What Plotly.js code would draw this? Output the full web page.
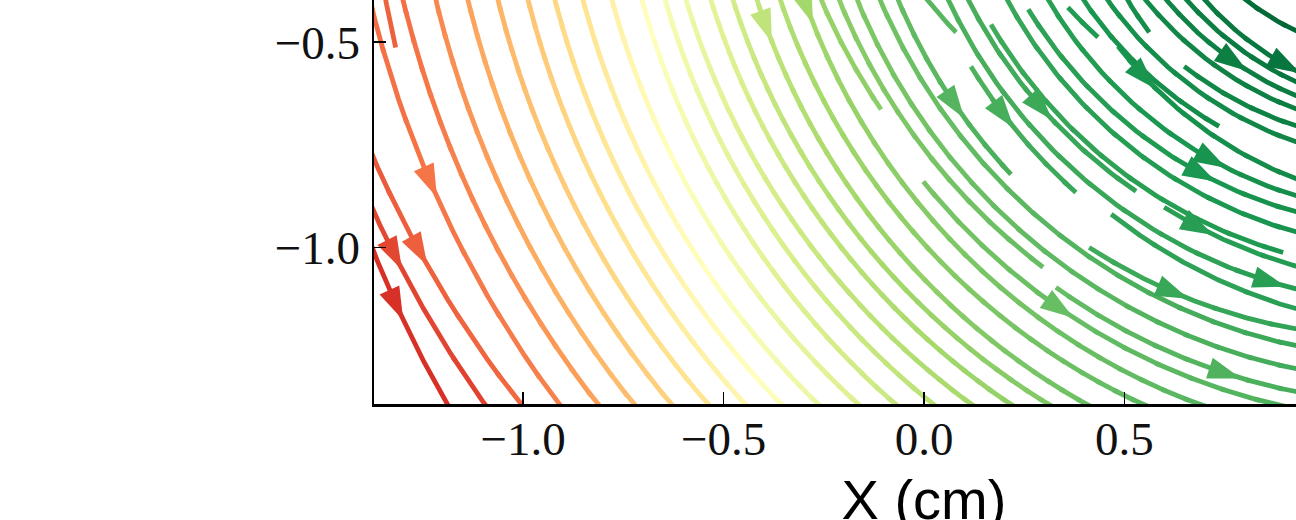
<!DOCTYPE html>
<html>
<head>
<meta charset="utf-8">
<script src="https://cdn.plot.ly/plotly-3.0.1.min.js"></script>
<style>
html,body{margin:0;padding:0;overflow:hidden;background:#fff;width:1296px;height:520px;}
#plot{position:absolute;left:0;top:-100px;width:1500px;height:654px;}
</style>
</head>
<body>
<div id="plot"></div>
<script>
// ---- data (data units) ----
// centre the streamlines curl around (used to bend each line between its two read end points)
const fieldCentre = [1.2, 0.2];

// streamline pieces: start point, end point, colour level (RdYlGn 0..1) at start and end
const segStartX = [-1.372,-1.372,-1.372,-1.372,-1.343,-1.300,-1.218,-1.138,-1.063,-0.988,-0.921,-0.851,-0.779,-0.704,-0.646,-0.594,-0.532,-0.477,-0.417,-0.359,-0.299,-0.257,-0.002,-0.212,0.329,-0.167,-0.110,-0.065,0.412,0.007,0.117,0.467,0.060,0.110,0.599,0.167,0.207,0.260,0.309,0.359,0.484,0.397,0.457,0.507,0.649,0.552,0.604,0.654,0.699,0.801];
const segStartY = [-1.012,-0.914,-0.785,-0.437,-0.396,-0.396,-0.396,-0.396,-0.396,-0.396,-0.396,-0.396,-0.396,-0.396,-0.396,-0.396,-0.396,-0.396,-0.396,-0.396,-0.396,-0.396,-0.839,-0.396,-1.097,-0.396,-0.396,-0.396,-1.000,-0.396,-0.559,-0.919,-0.396,-0.396,-0.902,-0.457,-0.396,-0.420,-0.396,-0.415,-0.510,-0.396,-0.396,-0.396,-0.559,-0.396,-0.396,-0.396,-0.396,-0.396];
const segEndX   = [-1.190,-1.096,-1.006,-0.911,-1.318,-0.814,-0.724,-0.631,-0.539,-0.447,-0.357,-0.265,-0.165,-0.072,0.022,0.117,0.215,0.309,0.404,0.544,0.684,-0.107,0.873,0.297,0.931,0.931,0.931,0.217,0.931,0.080,0.379,0.931,0.931,0.529,0.931,0.896,0.931,0.931,0.931,0.434,0.931,0.736,0.931,0.562,0.931,0.931,0.931,0.931,0.931,0.931];
const segEndY   = [-1.381,-1.381,-1.381,-1.381,-0.513,-1.381,-1.381,-1.381,-1.381,-1.381,-1.381,-1.381,-1.381,-1.381,-1.381,-1.381,-1.381,-1.381,-1.381,-1.381,-1.381,-0.664,-1.381,-1.048,-1.352,-1.296,-1.240,-0.822,-1.199,-0.476,-0.866,-1.150,-1.102,-0.863,-1.046,-1.012,-0.963,-0.914,-0.875,-0.488,-0.834,-0.705,-0.744,-0.476,-0.705,-0.664,-0.632,-0.598,-0.571,-0.474];
const segStartLevel = [0.10,0.14,0.17,0.20,0.18,0.20,0.24,0.28,0.31,0.34,0.38,0.41,0.45,0.49,0.52,0.54,0.57,0.61,0.64,0.67,0.70,0.72,0.77,0.74,0.80,0.76,0.78,0.80,0.85,0.82,0.83,0.87,0.83,0.84,0.88,0.85,0.86,0.87,0.88,0.89,0.90,0.90,0.91,0.92,0.93,0.93,0.94,0.95,0.96,0.99];
const segEndLevel   = [0.10,0.13,0.19,0.23,0.18,0.28,0.33,0.37,0.42,0.47,0.51,0.55,0.59,0.63,0.66,0.70,0.73,0.76,0.79,0.81,0.82,0.74,0.83,0.80,0.84,0.85,0.86,0.84,0.87,0.82,0.86,0.88,0.885,0.87,0.89,0.90,0.91,0.915,0.92,0.895,0.93,0.93,0.94,0.925,0.95,0.955,0.96,0.97,0.975,1.00];

// arrow heads (centres)
const arrowX = [-1.260,-1.318,-1.273,-1.313,-0.414,-0.275,0.085,0.200,0.299,0.554,0.784,0.908,0.734,0.686,0.691,0.866,0.624,0.334,0.759];
const arrowY = [-0.858,-1.021,-1.021,-1.143,-0.474,-0.415,-0.651,-0.681,-0.659,-0.586,-0.537,-0.554,-0.766,-0.839,-0.948,-1.089,-1.114,-1.162,-1.296];

// axes
const xTickVals = [-1.0,-0.5,0.0,0.5,1.0];
const xTickText = ['\u22121.0','\u22120.5','0.0','0.5','1.0'];
const yTickVals = [-1.0,-0.5];
const yTickText = ['\u22121.0','\u22120.5'];
const xTitle = 'X (cm)';

// ---- styling / geometry ----
const X_RANGE = [-1.372, 1.372];
const Y_RANGE = [-1.381, -0.2];
const X_VISIBLE_RIGHT = 0.931, Y_VISIBLE_TOP = -0.396;
const PLOT_W = 1100, PLOT_H = 485;
const PX_X = PLOT_W/(X_RANGE[1]-X_RANGE[0]);
const PX_Y = PLOT_H/(Y_RANGE[1]-Y_RANGE[0]);
const LEVEL_STEPS = 200;
const ARROW_SIZE = 35, ARROW_TIP_AHEAD_PX = 15;

const cmapStops = ['#a50026','#d73027','#f46d43','#fdae61','#fee08b','#ffffbf','#d9ef8b','#a6d96a','#66bd63','#1a9850','#006837'];
const stopsRGB = cmapStops.map(h => [parseInt(h.slice(1,3),16),parseInt(h.slice(3,5),16),parseInt(h.slice(5,7),16)]);
function cmap(t){
  t = Math.max(0, Math.min(1, t));
  const s = t*10, i = Math.min(9, Math.floor(s)), f = s - i;
  const a = stopsRGB[i], b = stopsRGB[i+1];
  return 'rgb(' + [0,1,2].map(k => Math.round(a[k] + (b[k]-a[k])*f)).join(',') + ')';
}

function arcOf(i){
  const ax = segStartX[i], ay = segStartY[i], bx = segEndX[i], by = segEndY[i];
  const mx = (ax+bx)/2, my = (ay+by)/2;
  const dx = bx-ax, dy = by-ay, L = Math.hypot(dx, dy);
  const nx = -dy/L, ny = dx/L;
  const s = (fieldCentre[0]-mx)*nx + (fieldCentre[1]-my)*ny;
  const cx = mx + nx*s, cy = my + ny*s;
  const r = Math.hypot(ax-cx, ay-cy);
  const tA = Math.atan2(ay-cy, ax-cx);
  let tB = Math.atan2(by-cy, bx-cx);
  while (tB < tA) tB += 2*Math.PI;
  const edgeA = ax <= X_RANGE[0] + 0.005 || ay >= Y_VISIBLE_TOP - 0.005;
  const edgeB = by <= Y_RANGE[0] + 0.005 || bx >= X_VISIBLE_RIGHT - 0.005;
  return {cx, cy, r, tA, tB,
          t0: tA - (edgeA ? 0.4/r : 0), t1: tB + (edgeB ? 0.4/r : 0),
          l0: segStartLevel[i], l1: segEndLevel[i]};
}
function levelAt(sg, t){
  const f = Math.max(0, Math.min(1, (t - sg.tA)/(sg.tB - sg.tA)));
  return sg.l0 + (sg.l1 - sg.l0)*f;
}

const segs = segStartX.map((_, i) => arcOf(i));

// split every line into colour runs so the colour can change along it
const bins = {};
segs.forEach(sg => {
  const n = Math.max(6, Math.ceil((sg.t1 - sg.t0)*sg.r/0.006));
  const px = [], py = [], pb = [];
  for (let k = 0; k <= n; k++){
    const t = sg.t0 + (sg.t1 - sg.t0)*k/n;
    px.push(sg.cx + sg.r*Math.cos(t)); py.push(sg.cy + sg.r*Math.sin(t));
  }
  for (let k = 0; k < n; k++){
    const t = sg.t0 + (sg.t1 - sg.t0)*(k+0.5)/n;
    pb.push(Math.round(levelAt(sg, t)*LEVEL_STEPS));
  }
  let k = 0;
  while (k < n){
    let e = k;
    while (e+1 < n && pb[e+1] === pb[k]) e++;
    const from = Math.max(0, k-1), to = Math.min(n, e+2);
    const b = bins[pb[k]] || (bins[pb[k]] = {x: [], y: []});
    for (let j = from; j <= to; j++){ b.x.push(px[j]); b.y.push(py[j]); }
    b.x.push(null); b.y.push(null);
    k = e + 1;
  }
});

const traces = Object.keys(bins).map(Number).sort((a,b)=>a-b).map(key => ({
  type: 'scatter', mode: 'lines', x: bins[key].x, y: bins[key].y,
  line: {color: cmap(key/LEVEL_STEPS), width: 4.8},
  hoverinfo: 'skip', showlegend: false
}));

// arrows snapped onto their nearest line; the tip is put ahead so the head is centred on the read point
const hx = [], hy = [], ac = [], aa = [];
arrowX.forEach((x, i) => {
  const y = arrowY[i];
  let best = null, bestD = 1e9, bestPhi = 0;
  segs.forEach(sg => {
    let phi = Math.atan2(y - sg.cy, x - sg.cx);
    while (phi < sg.tA - 0.05) phi += 2*Math.PI;
    if (phi > sg.tB + 0.05) return;
    const d = Math.abs(Math.hypot(x - sg.cx, y - sg.cy) - sg.r);
    if (d < bestD){ bestD = d; best = sg; bestPhi = phi; }
  });
  if (!best) return;
  const sx = -Math.sin(bestPhi)*PX_X, sy = -Math.cos(bestPhi)*PX_Y;
  const norm = Math.hypot(sx, sy);
  const ux = sx/norm, uy = sy/norm;
  hx.push(best.cx + best.r*Math.cos(bestPhi) + ux*ARROW_TIP_AHEAD_PX/PX_X);
  hy.push(best.cy + best.r*Math.sin(bestPhi) - uy*ARROW_TIP_AHEAD_PX/PX_Y);
  ac.push(cmap(levelAt(best, bestPhi)));
  aa.push(Math.atan2(sy, sx)*180/Math.PI + 90);
});
traces.push({
  type: 'scatter', mode: 'markers', x: hx, y: hy, hoverinfo: 'skip', showlegend: false,
  marker: {symbol: 'arrow', size: ARROW_SIZE, color: ac, angle: aa, line: {width: 0}}
});

const axisCommon = {
  ticks: 'inside', ticklen: 12, tickwidth: 1.5, tickcolor: '#000',
  showline: true, linecolor: '#000', linewidth: 2.5,
  showgrid: false, zeroline: false, mirror: false,
  tickfont: {family: '"Liberation Serif", "DejaVu Serif", serif', size: 47, color: '#111'},
  tickmode: 'array'
};
const layout = {
  width: 1500, height: 654,
  margin: {l: 374, r: 26, t: 19, b: 150},
  paper_bgcolor: '#fff', plot_bgcolor: '#fff', showlegend: false,
  xaxis: Object.assign({}, axisCommon, {
    range: X_RANGE, tickvals: xTickVals, ticktext: xTickText, ticklabelstandoff: -8,
    title: {text: xTitle, font: {family: '"Liberation Sans", Arial, sans-serif', size: 56, color: '#000'}, standoff: 16}
  }),
  yaxis: Object.assign({}, axisCommon, {
    range: Y_RANGE, tickvals: yTickVals, ticktext: yTickText, ticklabelstandoff: 2
  })
};
Plotly.newPlot('plot', traces, layout, {staticPlot: true, displayModeBar: false});
</script>
</body>
</html>
